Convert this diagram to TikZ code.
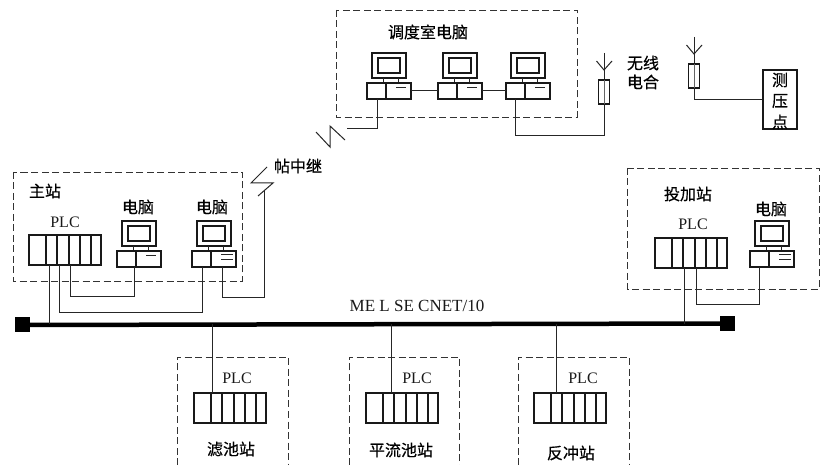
\documentclass[tikz,border=0pt]{standalone}
\usepackage{fontspec}
\setmainfont{Liberation Serif}
\newfontfamily\cjk[FakeBold=0.5]{Noto Sans CJK SC}
\tikzset{
  x=1pt,y=-1pt,
  ln/.style={draw=black!85,line width=1pt},
  thk/.style={draw=black!90,line width=1.6pt},
  dbox/.style={draw=black!80,line width=0.9pt,dash pattern=on 7pt off 3.5pt},
  zh/.style={font=\cjk\fontsize{16}{16}\selectfont,text=black,inner sep=0pt},
  la/.style={font=\fontsize{16}{16}\selectfont,text=black!90,inner sep=0pt},
}
\newcommand{\pcunit}[4]{% x,y of monitor top-left, name, number of dashes
  \begin{scope}[shift={(#1,#2)}]
    \draw[thk] (0,0) rectangle (34,25);
    \draw[thk] (6,5) rectangle (28,20);
    \draw[ln] (11,25) -- (11,30) (26,25) -- (26,30);
    \draw[thk] (-5,30) rectangle (39,46);
    \draw[thk] (14,30) -- (14,46);
    \ifnum#4=1
      \draw[ln] (24,35) -- (34,35);
    \else
      \draw[ln] (24,34) -- (36,34) (24,39) -- (36,39);
    \fi
    \coordinate (#3-l) at (-5,38);
    \coordinate (#3-r) at (39,38);
    \coordinate (#3-b) at (0,46);
  \end{scope}}
\newcommand{\plcunit}[3]{% x,y top-left, name
  \begin{scope}[shift={(#1,#2)}]
    \draw[thk] (0,0) rectangle (72,30);
    \foreach \d in {17,28,40,51,62} \draw[thk] (\d,0) -- (\d,30);
    \coordinate (#3-bot) at (0,30);
    \coordinate (#3-top) at (0,0);
  \end{scope}}
\newcommand{\radio}[4]{% stem x, stem top y, box top y, name
  \draw[ln] (#1,#2) -- (#1,#3);
  \draw[ln] (#1-7.5,#2+8) -- (#1,#2+17) -- (#1+8,#2+8);
  \draw[thk] (#1-5.5,#3) rectangle (#1+5.5,#3+24);
  \draw[line width=.5pt,black!60] (#1,#3) -- (#1,#3+24);
  \coordinate (#4) at (#1,#3+24);}
\begin{document}
\begin{tikzpicture}
\useasboundingbox (0,0) rectangle (823,465);
\fill[white] (0,0) rectangle (823,465);
% dashed groups
\draw[dbox] (13,172) rectangle (242,281);
\draw[dbox] (336,10) rectangle (577,117);
\draw[dbox] (627,168) rectangle (819,289);
\draw[dbox] (177,465) -- (177,357) -- (288,357) -- (288,465);
\draw[dbox] (349,465) -- (349,357) -- (459,357) -- (459,465);
\draw[dbox] (518,465) -- (518,357) -- (629,357) -- (629,465);
% bus
\node[fill=black,minimum size=15pt,inner sep=0pt] (busL) at (22,325) {};
\node[fill=black,minimum size=15pt,inner sep=0pt] (busR) at (727,323.5) {};
\draw[line width=4.5pt,black] (busL.center) -- (busR.center);
\coordinate (bus) at (22,324);
% units
\plcunit{29}{235}{m}
\pcunit{122}{221}{p1}{1}
\pcunit{197}{221}{p2}{2}
\pcunit{372}{53}{d1}{1}
\pcunit{443}{53}{d2}{1}
\pcunit{511}{53}{d3}{1}
\plcunit{655}{238}{t}
\pcunit{755}{221}{p3}{2}
\plcunit{194}{393}{s1}
\plcunit{366}{393}{s2}
\plcunit{534}{393}{s3}
\radio{604}{53}{80}{r1}
\radio{694}{37}{64}{r2}
% connector routes
\coordinate (j1) at (134,297);
\coordinate (j2) at (202,313);
\coordinate (j3) at (264,298);
\coordinate (j4) at (759,305);
\coordinate (z1) at (264,191);
\coordinate (z2) at (347,129);
\coordinate (x1) at (49,0);
\coordinate (x2) at (59,0);
\coordinate (x3) at (70,0);
\coordinate (x4) at (222,0);
\coordinate (x5) at (684,0);
\coordinate (x6) at (696,0);
\coordinate (x7) at (212,0);
\coordinate (x8) at (391,0);
\coordinate (x9) at (556,0);
\coordinate (x10) at (377,0);
\coordinate (x11) at (515,0);
\draw[ln] (x1 |- m-bot) -- (x1 |- bus);
\draw[ln] (x2 |- m-bot) |- (j2) -- (j2 |- p2-b);
\draw[ln] (x3 |- m-bot) |- (j1) -- (j1 |- p1-b);
\draw[ln] (x4 |- p2-b) |- (j3) -- (z1);
\draw[ln] (x5 |- t-bot) -- (x5 |- bus);
\draw[ln] (x6 |- t-bot) |- (j4) -- (j4 |- p3-b);
\draw[ln] (x7 |- bus) -- (x7 |- s1-top);
\draw[ln] (x8 |- bus) -- (x8 |- s2-top);
\draw[ln] (x9 |- bus) -- (x9 |- s3-top);
\draw[ln] (d1-r) -- (d2-l);
\draw[ln] (d2-r) -- (d3-l);
\draw[ln] (x10 |- d1-b) |- (z2);
\draw[ln] (x11 |- d3-b) |- (r1 |- 0,136) -- (r1);
% lightning
\draw[ln] (267,167) -- (251,183) -- (273,183) -- (258,196);
\draw[ln] (316,132) -- (330,147) -- (330,126) -- (345,140);
% gauge box
\node[thk,draw,minimum width=34pt,minimum height=59pt,inner sep=0pt] (gauge) at (780,99.5) {};
\draw[ln] (r2) |- (gauge.west);
\node[zh] (g1) at (780,80) {测};
\node[zh] (g2) at (780,101) {压};
\node[zh] (g3) at (780,122) {点};
% labels
\node[zh] (t1) at (45,191) {主站};
\node[zh] (t2) at (138,207) {电脑};
\node[zh] (t3) at (212,207) {电脑};
\node[la] (t4) at (65,222) {PLC};
\node[zh] (t5) at (428,32) {调度室电脑};
\node[zh] (t6) at (298,166) {帖中继};
\node[zh] (t7) at (643,63) {无线};
\node[zh] (t8) at (643,82) {电合};
\node[zh] (t9) at (688,194) {投加站};
\node[zh] (t10) at (771,209) {电脑};
\node[la] (t11) at (693,224) {PLC};
\node[la,font=\fontsize{17}{17}\selectfont] (t12) at (417,306) {ME L SE CNET/10};
\node[la] (t13) at (237,378) {PLC};
\node[la] (t14) at (417,378) {PLC};
\node[la] (t15) at (583,378) {PLC};
\node[zh] (t16) at (231,449) {滤池站};
\node[zh] (t17) at (401,450) {平流池站};
\node[zh] (t18) at (571,453) {反冲站};
\end{tikzpicture}
\end{document}
